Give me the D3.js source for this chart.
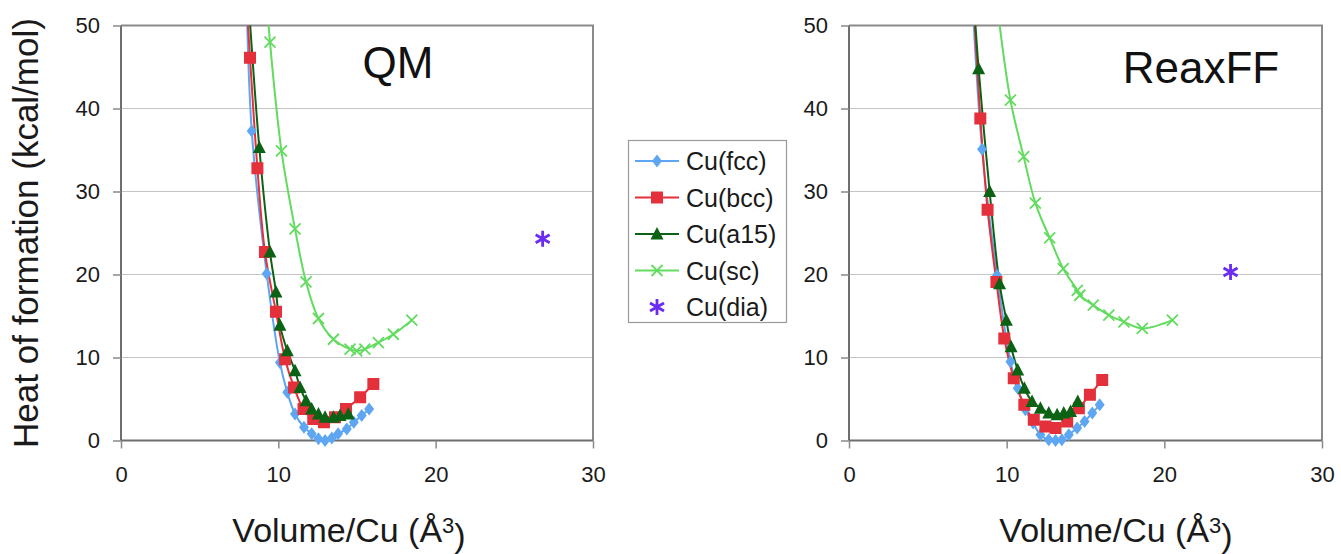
<!DOCTYPE html>
<html>
<head>
<meta charset="utf-8">
<script src="https://cdn.jsdelivr.net/npm/d3@7"></script>
<style>
  html, body { margin: 0; padding: 0; background: #ffffff; }
  svg { display: block; font-family: "Liberation Sans", Arial, Helvetica, sans-serif; }
</style>
</head>
<body>
<svg id="chart" width="1341" height="554"></svg>
<script>
// ---------- data (Volume/Cu in Å^3, heat of formation in kcal/mol) ----------
const seriesNames = ["Cu(fcc)", "Cu(bcc)", "Cu(a15)", "Cu(sc)", "Cu(dia)"];
const xTicks = [0, 10, 20, 30];
const yTicks = [0, 10, 20, 30, 40, 50];
const panelTitles = ["QM", "ReaxFF"];

// QM panel
const qmFcc = [[7.95,56],[8.31,37.3],[9.26,20.1],[10.1,9.4],[10.57,5.8],[11.06,3.2],[11.63,1.6],[12.12,0.8],[12.55,0.2],[12.97,0.0],[13.4,0.3],[13.8,0.8],[14.35,1.4],[14.8,2.2],[15.3,3.0],[15.77,3.8]];
const qmBcc = [[7.92,55],[8.2,46.1],[8.67,32.8],[9.15,22.7],[9.85,15.5],[10.43,9.8],[11.0,6.4],[11.6,3.8],[12.22,2.6],[12.9,2.2],[13.6,2.8],[14.3,3.8],[15.2,5.2],[16.04,6.8]];
const qmA15 = [[8.0,56],[8.79,35.3],[9.47,22.7],[9.85,17.9],[10.1,13.9],[10.57,10.8],[11.06,8.4],[11.38,6.4],[11.76,4.8],[12.12,3.8],[12.55,3.2],[12.97,2.8],[13.5,2.8],[13.92,3.0],[14.45,3.2]];
const qmSc  = [[9.2,54.8],[9.47,48.0],[10.2,34.9],[11.06,25.5],[11.76,19.1],[12.55,14.7],[13.5,12.2],[14.56,11.0],[14.98,10.8],[15.5,11.0],[16.36,11.8],[17.31,12.8],[18.48,14.5]];
const qmDia = [[26.8,24.3]];

// ReaxFF panel
const rxFcc = [[7.75,56],[8.44,35.1],[9.39,19.9],[10.24,9.5],[10.7,6.3],[11.19,3.7],[11.68,2.1],[12.14,0.7],[12.67,0.1],[13.1,0.0],[13.5,0.1],[13.94,0.7],[14.47,1.5],[14.94,2.3],[15.43,3.3],[15.9,4.3]];
const rxBcc = [[7.8,56],[8.33,38.8],[8.79,27.8],[9.35,19.1],[9.85,12.3],[10.45,7.5],[11.12,4.3],[11.72,2.5],[12.46,1.7],[13.1,1.5],[13.84,2.3],[14.58,3.9],[15.28,5.5],[16.06,7.3]];
const rxA15 = [[7.85,55],[8.22,44.8],[8.92,30.0],[9.55,18.9],[9.98,14.5],[10.28,11.3],[10.7,8.5],[11.12,6.3],[11.61,4.7],[12.14,3.9],[12.67,3.3],[13.2,3.1],[13.62,3.3],[14.05,3.5],[14.51,4.7]];
const rxSc  = [[9.3,54],[10.24,41.0],[11.08,34.2],[11.82,28.6],[12.73,24.4],[13.59,20.7],[14.48,18.1],[14.64,17.5],[15.49,16.3],[16.48,15.1],[17.44,14.3],[18.6,13.5],[20.51,14.5]];
const rxDia = [[24.2,20.3]];

const panels = [
  { title: panelTitles[0], series: [qmFcc, qmBcc, qmA15, qmSc, qmDia] },
  { title: panelTitles[1], series: [rxFcc, rxBcc, rxA15, rxSc, rxDia] }
];

// ---------- styling ----------
const colors = ["#5ea6f2", "#e3303a", "#0b6215", "#62dc5e", "#6a2cf0"];
const markerType = ["diamond", "square", "triangle", "x", "star"];
const layout = [
  { left: 121, right: 593, top: 25.5, bottom: 440.5, titleX: 398, titleY: 78, yTitle: true, xTitleX: 349 },
  { left: 849, right: 1322, top: 25.5, bottom: 440.5, titleX: 1201, titleY: 83, yTitle: false, xTitleX: 1116 }
];

const svg = d3.select("#chart");
const defs = svg.append("defs");

function markerPath(type) {
  switch (type) {
    case "diamond": return "M0,-6.5L5,0L0,6.5L-5,0Z";
    case "square": return "M-6,-6H6V6H-6Z";
    case "triangle": return "M0,-7L6.5,5.5L-6.5,5.5Z";
    case "x": return "M-5.5,-5.5L5.5,5.5M-5.5,5.5L5.5,-5.5";
    case "star": return "M0,-8V8M-7,-4L7,4M-7,4L7,-4";
  }
}

function drawMarker(g, type, color, x, y) {
  const p = g.append("path").attr("d", markerPath(type)).attr("transform", `translate(${x},${y})`);
  if (type === "x" || type === "star") {
    p.attr("fill", "none").attr("stroke", color).attr("stroke-width", type === "star" ? 2.8 : 1.8);
  } else {
    p.attr("fill", color).attr("stroke", "none");
  }
}

panels.forEach((panel, pi) => {
  const L = layout[pi];
  const x = d3.scaleLinear().domain([0, 30]).range([L.left, L.right]);
  const y = d3.scaleLinear().domain([0, 50]).range([L.bottom, L.top]);
  const g = svg.append("g");

  const clipId = "clip" + pi;
  defs.append("clipPath").attr("id", clipId).append("rect")
    .attr("x", L.left).attr("y", L.top).attr("width", L.right - L.left).attr("height", L.bottom - L.top + 8);

  // gridlines
  g.append("g").selectAll("line").data(yTicks.filter(t => t > 0 && t < 50)).join("line")
    .attr("x1", L.left).attr("x2", L.right).attr("y1", d => y(d)).attr("y2", d => y(d))
    .attr("stroke", "#c4c4c4").attr("stroke-width", 1.2);

  // plot border (top & right)
  g.append("path").attr("d", `M${L.left},${L.top}H${L.right}V${L.bottom}`)
    .attr("fill", "none").attr("stroke", "#8a8a8a").attr("stroke-width", 2);

  // axes
  const yAxis = d3.axisLeft(y).tickValues(yTicks).tickSize(8).tickPadding(13).tickFormat(d3.format("d"));
  const xAxis = d3.axisBottom(x).tickValues(xTicks).tickSize(8).tickPadding(18).tickFormat(d3.format("d"));
  const ya = g.append("g").attr("transform", `translate(${L.left},0)`).call(yAxis);
  const xa = g.append("g").attr("transform", `translate(0,${L.bottom})`).call(xAxis);
  [ya, xa].forEach(a => {
    a.select(".domain").attr("stroke", "#6e6e6e").attr("stroke-width", 2);
    a.selectAll(".tick line").attr("stroke", "#8a8a8a").attr("stroke-width", 1.5);
    a.selectAll(".tick text").attr("fill", "#1a1a1a").style("font-size", "22px")
      .style("font-family", "'Liberation Sans', Arial, sans-serif");
  });
  ya.select(".domain").attr("d", `M0,${L.top}V${L.bottom}`);
  xa.select(".domain").attr("d", `M${L.left},0H${L.right}`);

  // series
  const line = d3.line().x(d => x(d[0])).y(d => y(d[1])).curve(d3.curveCatmullRom.alpha(0.5));
  const sg = g.append("g").attr("clip-path", `url(#${clipId})`);
  panel.series.forEach((data, si) => {
    if (markerType[si] !== "star") {
      sg.append("path").datum(data).attr("d", line)
        .attr("fill", "none").attr("stroke", colors[si]).attr("stroke-width", 2);
    }
  });
  panel.series.forEach((data, si) => {
    data.forEach(d => drawMarker(sg, markerType[si], colors[si], x(d[0]), y(d[1])));
  });

  // panel title
  g.append("text").attr("x", L.titleX).attr("y", L.titleY).attr("text-anchor", "middle")
    .style("font-size", "44px").attr("fill", "#111").text(panel.title);

  // x-axis title
  const xt = g.append("text").attr("x", L.xTitleX).attr("y", 542).attr("text-anchor", "middle")
    .style("font-size", "34px").attr("fill", "#1a1a1a");
  xt.append("tspan").text("Volume/Cu (Å");
  xt.append("tspan").attr("dy", "-0.42em").style("font-size", "22px").text("3");
  xt.append("tspan").attr("dy", "0.42em").text(")");

  if (L.yTitle) {
    g.append("text").attr("transform", `translate(38,${(L.top + L.bottom) / 2}) rotate(-90)`)
      .attr("text-anchor", "middle").style("font-size", "35px").attr("fill", "#1a1a1a")
      .text("Heat of formation (kcal/mol)");
  }
});

// ---------- legend ----------
const lg = svg.append("g");
lg.append("rect").attr("x", 628.5).attr("y", 140.5).attr("width", 158).attr("height", 182)
  .attr("fill", "#fff").attr("stroke", "#9a9a9a").attr("stroke-width", 1.2);
seriesNames.forEach((name, i) => {
  const cy = 161 + i * 36.5;
  if (markerType[i] !== "star") {
    lg.append("line").attr("x1", 635).attr("x2", 679).attr("y1", cy).attr("y2", cy)
      .attr("stroke", colors[i]).attr("stroke-width", 2);
  }
  drawMarker(lg, markerType[i], colors[i], 657, cy);
  lg.append("text").attr("x", 686).attr("y", cy + 9).style("font-size", "25px")
    .attr("fill", "#1a1a1a").text(name);
});
</script>
</body>
</html>
